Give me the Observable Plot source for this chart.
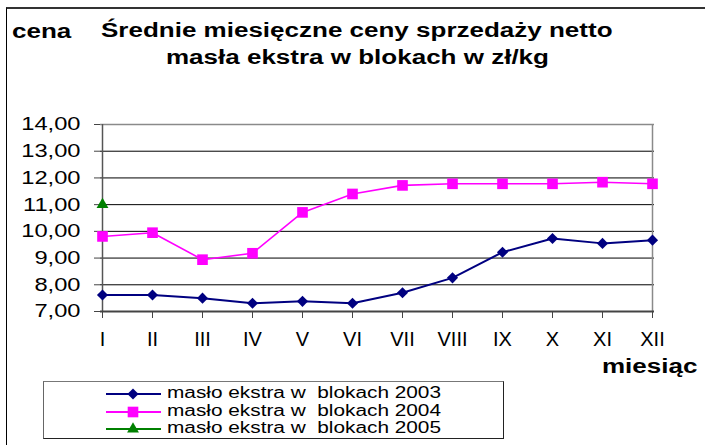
<!DOCTYPE html>
<html>
<head>
<meta charset="utf-8">
<script src="https://cdn.jsdelivr.net/npm/d3@7"></script>
<script src="https://cdn.jsdelivr.net/npm/@observablehq/plot@0.6"></script>
<style>
  html, body { margin: 0; padding: 0; background: #fff; }
  #wrap { position: relative; width: 705px; height: 445px; overflow: hidden; font-family: 'Liberation Sans', Arial, sans-serif; color: #000; }
  #frame { position: absolute; left: 6px; top: 7px; width: 710px; height: 450px; border-top: 2px solid #333; border-left: 1.5px solid #000; }
  #chart { position: absolute; left: 0; top: 0; }
  .t { position: absolute; white-space: nowrap; font-weight: bold; font-size: 20px; line-height: 1; transform-origin: 0 0; }
  #legend { position: absolute; left: 43px; top: 381px; width: 461px; height: 58px; border: 1.5px solid #222; border-top-color: #777; border-left-color: #666; box-sizing: border-box; }
  .lrow { position: absolute; left: 0; white-space: nowrap; font-size: 16px; line-height: 1; }
  .ltext { position: absolute; left: 123px; transform: scaleX(1.3); transform-origin: 0 0; }
</style>
</head>
<body>
<div id="wrap">
  <div id="frame"></div>
  <div id="chart"></div>
</div>
<script>
const months = ["I","II","III","IV","V","VI","VII","VIII","IX","X","XI","XII"];
const v2003 = [7.62, 7.62, 7.50, 7.31, 7.38, 7.31, 7.70, 8.26, 9.22, 9.73, 9.55, 9.67];
const v2004 = [9.81, 9.95, 8.94, 9.18, 10.71, 11.40, 11.72, 11.78, 11.78, 11.78, 11.84, 11.78];
const v2005 = [11.00];
const seriesNames = ["masło ekstra w  blokach 2003", "masło ekstra w  blokach 2004", "masło ekstra w  blokach 2005"];
const seriesColors = ["#000080", "#ff00ff", "#008000"];
const seriesSymbols = ["diamond2", "square", "triangle"];
const yTicks = [7, 8, 9, 10, 11, 12, 13, 14];
const gridTicks = [8, 9, 10, 11, 12, 13];
const titleLines = ["Średnie miesięczne ceny sprzedaży netto", "masła ekstra w blokach w zł/kg"];
const yAxisTitle = "cena";
const xAxisTitle = "miesiąc";

const rows = [];
[v2003, v2004, v2005].forEach((vals, i) =>
  vals.forEach((v, j) => rows.push({series: seriesNames[i], month: months[j], value: v})));

const fmt = d => d.toFixed(2).replace(".", ",");

const plot = Plot.plot({
  width: 705,
  height: 445,
  marginLeft: 100,
  marginRight: 51,
  marginTop: 124,
  marginBottom: 134,
  style: {fontFamily: "'Liberation Sans', Arial, sans-serif", background: "transparent", color: "#000", overflow: "visible"},
  x: {type: "point", domain: months, padding: 0, axis: null, label: null},
  y: {domain: [7, 14], axis: null, label: null},
  marks: [
    Plot.ruleY(gridTicks, {stroke: "#000", strokeWidth: 1}),
    Plot.ruleY([14], {stroke: "#8a8a8a", strokeWidth: 1.5}),
    Plot.ruleX(["XII"], {stroke: "#8a8a8a", strokeWidth: 1.5}),
    Plot.ruleX(["I"], {stroke: "#555", strokeWidth: 1.5}),
    Plot.ruleY([7], {stroke: "#444", strokeWidth: 2}),
    Plot.axisY({ticks: yTicks, tickFormat: fmt, tickSize: 6, tickPadding: 14, fontSize: 18.5, stroke: "#444", label: null}),
    Plot.axisX({ticks: months, tickSize: 7, tickPadding: 13, fontSize: 20, stroke: "#444", label: null}),
    Plot.line(rows.filter(d => d.series === seriesNames[0]), {x: "month", y: "value", stroke: seriesColors[0], strokeWidth: 2}),
    Plot.line(rows.filter(d => d.series === seriesNames[1]), {x: "month", y: "value", stroke: seriesColors[1], strokeWidth: 1.6}),
    Plot.dot(rows.filter(d => d.series === seriesNames[0]), {x: "month", y: "value", symbol: seriesSymbols[0], fill: seriesColors[0], r: 5}),
    Plot.dot(rows.filter(d => d.series === seriesNames[1]), {x: "month", y: "value", symbol: seriesSymbols[1], fill: seriesColors[1], r: 6}),
    Plot.dot(rows.filter(d => d.series === seriesNames[2]), {x: "month", y: "value", symbol: seriesSymbols[2], fill: seriesColors[2], r: 4.4})
  ]
});
document.getElementById("chart").appendChild(plot);

// stretch y tick labels horizontally like the reference
d3.select(plot).selectAll("g[aria-label='y-axis tick label'] text").each(function() {
  const w = this.getComputedTextLength();
  this.setAttribute("textLength", (w * 1.28).toFixed(1));
  this.setAttribute("lengthAdjust", "spacingAndGlyphs");
});

const wrap = document.getElementById("wrap");
function addText(str, left, baseline, opts = {}) {
  const el = document.createElement("div");
  el.className = "t";
  el.textContent = str;
  wrap.appendChild(el);
  const sx = opts.sx || 1.3;
  const fs = 20;
  const w = el.getBoundingClientRect().width;
  let x = left;
  if (opts.center) x = left - w * sx / 2;
  el.style.left = x + "px";
  el.style.top = (baseline - fs * 0.9) + "px";
  el.style.transform = `scaleX(${sx})`;
  return el;
}
addText(titleLines[0], 357, 38, {center: true});
addText(titleLines[1], 357, 65, {center: true});
addText(yAxisTitle, 12, 39);
addText(xAxisTitle, 602, 374);

// legend
const legend = document.createElement("div");
legend.id = "legend";
wrap.appendChild(legend);
const rowY = [12, 29.5, 47];
seriesNames.forEach((name, i) => {
  const sw = d3.create("svg").attr("width", 60).attr("height", 16)
    .style("position", "absolute").style("left", "60px").style("top", (rowY[i] - 8) + "px");
  sw.append("line").attr("x1", 2).attr("x2", 57).attr("y1", 8).attr("y2", 8)
    .attr("stroke", seriesColors[i]).attr("stroke-width", 2);
  const sym = [d3.symbolDiamond2, d3.symbolSquare, d3.symbolTriangle][i];
  const size = [5 * 5 * Math.PI, 6 * 6 * Math.PI, 4.4 * 4.4 * Math.PI][i];
  sw.append("path").attr("d", d3.symbol(sym, size)()).attr("transform", "translate(29,8)").attr("fill", seriesColors[i]);
  legend.appendChild(sw.node());
  const t = document.createElement("div");
  t.className = "lrow ltext";
  t.textContent = name;
  t.style.top = (rowY[i] - 9) + "px";
  t.style.whiteSpace = "pre";
  legend.appendChild(t);
});
</script>
</body>
</html>
